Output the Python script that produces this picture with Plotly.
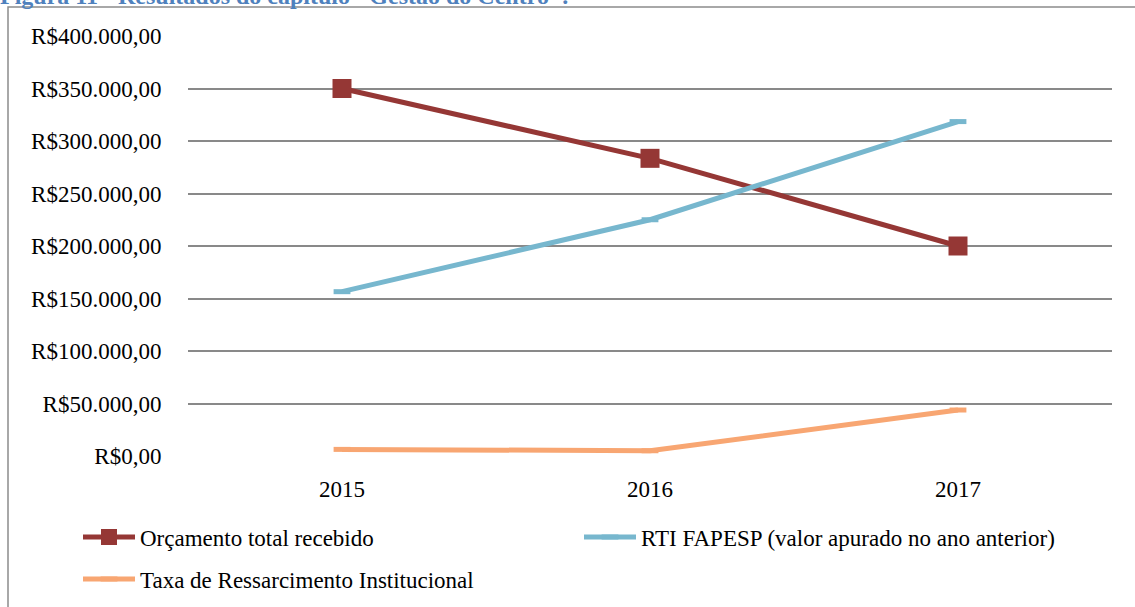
import plotly.graph_objects as go

# Data
anos = ["2015", "2016", "2017"]
orcamento_total = [350000, 283500, 200000]
rti_fapesp = [156500, 225000, 318500]
taxa_ressarcimento = [6300, 5000, 43800]

nomes = [
    "Orçamento total recebido",
    "RTI FAPESP (valor apurado no ano anterior)",
    "Taxa de Ressarcimento Institucional",
]

FONT = "Liberation Serif"
L, R, T, B = 188, 23, 36, 151
W, H = 1135, 607
plot_w = W - L - R
plot_h = H - T - B


def px_x(px):
    # page pixel -> paper x
    return (px - L) / plot_w


def px_y(py):
    # page pixel -> paper y
    return (T + plot_h - py) / plot_h


fig = go.Figure()

fig.add_trace(go.Scatter(
    x=anos, y=orcamento_total, name=nomes[0], mode="lines+markers",
    line=dict(color="#953735", width=5),
    marker=dict(symbol="square", size=19, color="#953735"),
    legend="legend",
))
fig.add_trace(go.Scatter(
    x=anos, y=rti_fapesp, name=nomes[1], mode="lines+markers",
    line=dict(color="#77B7CE", width=5),
    marker=dict(symbol="line-ew", size=12, line=dict(color="#77B7CE", width=5)),
    legend="legend",
))
fig.add_trace(go.Scatter(
    x=anos, y=taxa_ressarcimento, name=nomes[2], mode="lines+markers",
    line=dict(color="#F8A672", width=5),
    marker=dict(symbol="line-ew", size=12, line=dict(color="#F8A672", width=5)),
    legend="legend2",
))

# Outer chart frame (left and top edges visible)
fig.add_shape(
    type="rect", xref="paper", yref="paper",
    x0=px_x(8), x1=px_x(W + 20), y0=px_y(H + 20), y1=px_y(7),
    line=dict(color="#8c8c8c", width=1.5), layer="below",
)

# Figure caption, cut off at the top of the page
fig.add_annotation(
    text='Figura 11 - Resultados do capítulo "Gestão do Centro".',
    xref="paper", yref="paper", x=px_x(-2), y=px_y(11),
    xanchor="left", yanchor="bottom", showarrow=False,
    font=dict(family=FONT, size=24, color="#4F81BD", weight="bold"),
)

legend_common = dict(
    orientation="h", xanchor="left", yanchor="middle",
    font=dict(family=FONT, size=23, color="black"),
    itemwidth=52, bgcolor="rgba(0,0,0,0)",
    entrywidth=434, entrywidthmode="pixels",
)

fig.update_layout(
    width=W, height=H,
    margin=dict(l=L, r=R, t=T, b=B, autoexpand=False),
    paper_bgcolor="white", plot_bgcolor="white",
    separators=",.",
    showlegend=True,
    legend=dict(x=px_x(78), y=px_y(537), **legend_common),
    legend2=dict(x=px_x(78), y=px_y(579), **legend_common),
    xaxis=dict(
        type="category", range=[-0.5, 2.5], showgrid=False, zeroline=False,
        showline=False, ticks="outside", ticklen=12, tickcolor="rgba(0,0,0,0)",
        tickfont=dict(family=FONT, size=23, color="black"),
    ),
    yaxis=dict(
        range=[0, 400000], dtick=50000, tickprefix="R$", tickformat=",.2f",
        showgrid=True, gridcolor="#898989", gridwidth=1.5,
        zeroline=False, showline=False,
        ticks="outside", ticklen=21, tickcolor="rgba(0,0,0,0)",
        tickfont=dict(family=FONT, size=23, color="black"),
    ),
)

fig.write_html(
    "out.html",
    config={"displayModeBar": False},
    post_script="document.body.style.margin = '0';",
)
